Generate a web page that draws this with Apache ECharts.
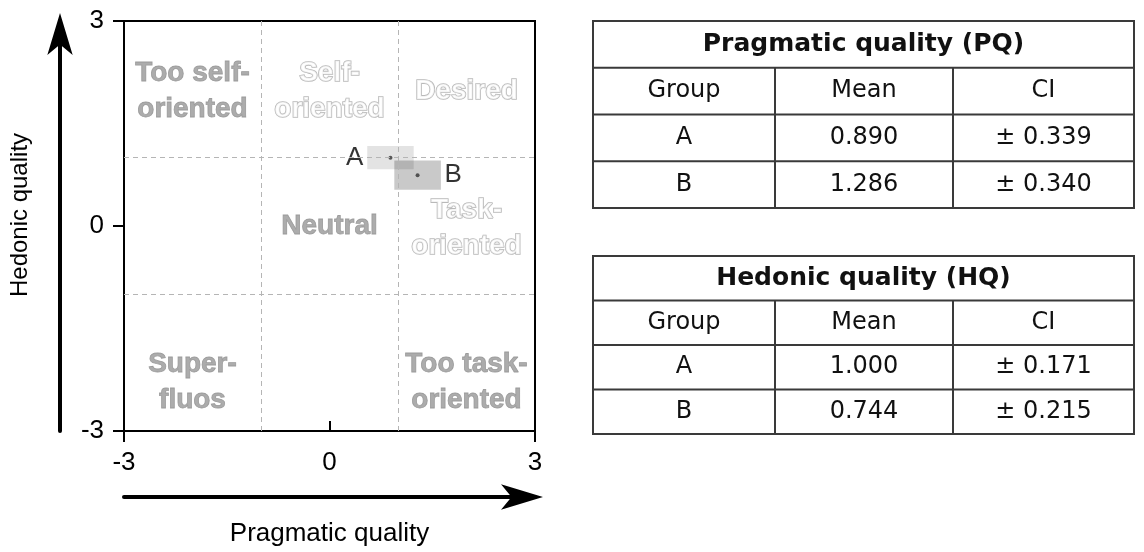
<!DOCTYPE html>
<html>
<head>
<meta charset="utf-8">
<script src="https://cdn.jsdelivr.net/npm/echarts@6/dist/echarts.min.js"></script>
<style>
  html, body { margin: 0; padding: 0; background: #fff; }
  #main { width: 1144px; height: 552px; }
</style>
</head>
<body>
<div id="main"></div>
<script>
// group results
var groups = ['A', 'B'];
var pqMean = [0.890, 1.286];
var pqCI = [0.339, 0.340];
var hqMean = [1.000, 0.744];
var hqCI = [0.171, 0.215];

// axes
var tickValues = [-3, 0, 3];
var zoneLines = [-1, 1];

// region names in the portfolio
var zoneNames = ['Too self-\noriented', 'Self-\noriented', 'Desired', 'Neutral', 'Task-\noriented', 'Super-\nfluos', 'Too task-\noriented'];
var zonePQ = [-2, 0, 2, 0, 2, -2, 2];
var zoneHQ = [1.97, 1.97, 1.97, 0, -0.03, -2.28, -2.28];
var zoneHollow = [false, true, true, false, true, false, false];

var boxColors = ['rgba(0,0,0,0.11)', 'rgba(0,0,0,0.21)'];
var labelFont = '"Liberation Sans", Arial, sans-serif';
var tableFont = '"DejaVu Sans", sans-serif';

var myChart = echarts.init(document.getElementById('main'));

var boxData = groups.map(function (g, i) {
  return [pqMean[i], pqCI[i], hqMean[i], hqCI[i]];
});

var zoneData = zoneNames.map(function (name, i) {
  var hollow = zoneHollow[i];
  return {
    value: [zonePQ[i], zoneHQ[i]],
    label: {
      formatter: name,
      color: hollow ? '#ffffff' : '#979797',
      textBorderColor: hollow ? '#a8a8a8' : '#888888',
      textBorderWidth: hollow ? 1.6 : 0.8
    }
  };
});

var pointData = groups.map(function (g, i) {
  return {
    value: [pqMean[i], hqMean[i]],
    label: { formatter: g, position: i === 0 ? 'left' : 'right' }
  };
});

// tables at the right
function buildTable(top, rowH, title, means, cis) {
  var left = 593, right = 1134;
  var cols = [593, 775, 953, 1134];
  var els = [];
  var bottom = top + rowH * 4;
  var line = { stroke: '#3a3a3a', lineWidth: 2 };
  els.push({ type: 'rect', shape: { x: left, y: top, width: right - left, height: bottom - top }, style: { fill: 'none', stroke: '#3a3a3a', lineWidth: 2 } });
  for (var r = 1; r < 4; r++) {
    els.push({ type: 'line', shape: { x1: left, y1: top + rowH * r, x2: right, y2: top + rowH * r }, style: line });
  }
  els.push({ type: 'line', shape: { x1: cols[1], y1: top + rowH, x2: cols[1], y2: bottom }, style: line });
  els.push({ type: 'line', shape: { x1: cols[2], y1: top + rowH, x2: cols[2], y2: bottom }, style: line });
  els.push({ type: 'text', x: (left + right) / 2, y: top + rowH / 2, style: { text: title, fontFamily: tableFont, fontWeight: 'bold', fontSize: 25, fill: '#111', align: 'center', verticalAlign: 'middle' } });
  var rows = [['Group', 'Mean', 'CI']];
  groups.forEach(function (g, i) {
    rows.push([g, means[i].toFixed(3), '\u00b1 ' + cis[i].toFixed(3)]);
  });
  rows.forEach(function (row, ri) {
    row.forEach(function (txt, ci) {
      els.push({ type: 'text', x: (cols[ci] + cols[ci + 1]) / 2, y: top + rowH * (ri + 1.5), style: { text: txt, fontFamily: tableFont, fontSize: 24, fill: '#111', align: 'center', verticalAlign: 'middle' } });
    });
  });
  return els;
}

var option = {
  backgroundColor: '#fff',
  animation: false,
  grid: {
    left: 124, right: 609, top: 21, bottom: 117,
    show: true, borderColor: '#000', borderWidth: 2, backgroundColor: 'transparent'
  },
  xAxis: [{
    type: 'value', min: -3, max: 3, interval: 3,
    axisLine: { show: true, onZero: false, lineStyle: { color: '#000', width: 2 } },
    axisTick: { show: true, length: 11, lineStyle: { color: '#000', width: 2 }, customValues: [-3, 3] },
    axisLabel: { color: '#000', fontSize: 26, fontFamily: labelFont, margin: 19, customValues: tickValues },
    splitLine: { show: false }
  }, {
    type: 'value', min: -3, max: 3, interval: 3, position: 'bottom',
    axisLine: { show: false, onZero: false },
    axisTick: { show: true, inside: true, length: 10, lineStyle: { color: '#000', width: 2 }, customValues: [0] },
    axisLabel: { show: false },
    splitLine: { show: false }
  }, {
    type: 'value', min: -3, max: 3, position: 'bottom', offset: 66,
    name: 'Pragmatic quality', nameLocation: 'middle', nameGap: 24,
    nameTextStyle: { color: '#000', fontSize: 26, fontFamily: labelFont },
    axisLine: { show: true, onZero: false, symbol: ['none', 'arrow'], symbolSize: [19, 42], symbolOffset: [0, 8], lineStyle: { color: '#000', width: 4 } },
    axisTick: { show: false }, axisLabel: { show: false }, splitLine: { show: false }
  }],
  yAxis: [{
    type: 'value', min: -3, max: 3, interval: 3,
    axisLine: { show: true, onZero: false, lineStyle: { color: '#000', width: 2 } },
    axisTick: { show: true, length: 11, lineStyle: { color: '#000', width: 2 } },
    axisLabel: { color: '#000', fontSize: 26, fontFamily: labelFont, margin: 20 },
    splitLine: { show: false }
  }, {
    type: 'value', min: -3, max: 3, position: 'left', offset: 64,
    name: 'Hedonic quality', nameLocation: 'middle', nameGap: 28,
    nameTextStyle: { color: '#000', fontSize: 24, fontFamily: labelFont, padding: [0, 0, 0, 22] },
    axisLine: { show: true, onZero: false, symbol: ['none', 'arrow'], symbolSize: [19, 42], symbolOffset: [0, 8], lineStyle: { color: '#000', width: 4 } },
    axisTick: { show: false }, axisLabel: { show: false }, splitLine: { show: false }
  }],
  series: [{
    // confidence boxes
    type: 'custom',
    xAxisIndex: 0, yAxisIndex: 0,
    silent: true,
    z: 2,
    renderItem: function (params, api) {
      var p1 = api.coord([api.value(0) - api.value(1), api.value(2) + api.value(3)]);
      var p2 = api.coord([api.value(0) + api.value(1), api.value(2) - api.value(3)]);
      return {
        type: 'rect',
        shape: { x: p1[0], y: p1[1], width: p2[0] - p1[0], height: p2[1] - p1[1] },
        style: { fill: boxColors[params.dataIndex] }
      };
    },
    data: boxData
  }, {
    // region names
    type: 'scatter',
    xAxisIndex: 0, yAxisIndex: 0,
    silent: true,
    symbolSize: 0,
    z: 1,
    label: {
      show: true, position: 'inside',
      fontFamily: labelFont, fontWeight: 'bold', fontSize: 28, lineHeight: 36, align: 'center'
    },
    data: zoneData
  }, {
    // group means
    type: 'scatter',
    xAxisIndex: 0, yAxisIndex: 0,
    symbolSize: 4,
    z: 4,
    itemStyle: { color: '#333' },
    label: { show: true, distance: 25, color: '#000', fontSize: 26, fontFamily: labelFont },
    markLine: {
      silent: true,
      symbol: 'none',
      label: { show: false },
      lineStyle: { color: '#b5b5b5', width: 1, type: [5, 4] },
      data: zoneLines.map(function (v) { return { xAxis: v }; }).concat(zoneLines.map(function (v) { return { yAxis: v }; }))
    },
    data: pointData
  }],
  graphic: buildTable(21, 46.75, 'Pragmatic quality (PQ)', pqMean, pqCI)
    .concat(buildTable(256, 44.5, 'Hedonic quality (HQ)', hqMean, hqCI))
};

myChart.setOption(option);
</script>
</body>
</html>
